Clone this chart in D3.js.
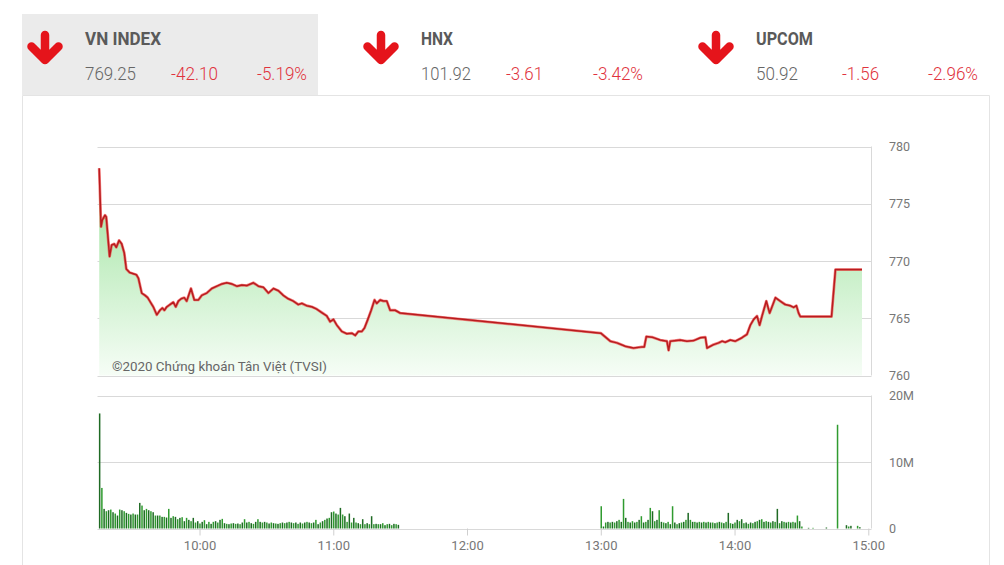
<!DOCTYPE html>
<html><head><meta charset="utf-8">
<script src="https://cdn.jsdelivr.net/npm/d3@7"></script>
<style>
html,body{margin:0;padding:0;background:#fff;}
svg{display:block;font-family:Roboto,"Noto Sans",sans-serif;}
</style></head>
<body><svg id="c" width="1004" height="565"></svg>
<script>
// ---------- header data ----------
const indexNames = ["VN INDEX", "HNX", "UPCOM"];
const indexValues = ["769.25", "101.92", "50.92"];
const indexChanges = ["-42.10", "-3.61", "-1.56"];
const indexPercents = ["-5.19%", "-3.42%", "-2.96%"];

// ---------- price series (VN-Index intraday) ----------
const priceTimes = [
"09:15:00","09:15:50","09:16:25","09:17:36","09:18:10","09:19:40","09:20:35","09:21:45","09:22:40","09:23:55",
"09:25:05","09:26:15","09:27:10","09:28:40","09:31:40","09:32:35","09:34:05","09:35:35","09:36:45","09:39:15",
"09:40:50","09:42:15","09:43:20","09:44:15","09:45:20","09:46:45","09:48:15","09:49:20","09:50:30","09:51:45",
"09:53:10","09:54:15","09:56:10","09:57:40","09:59:30","10:01:00","10:03:15","10:05:30","10:07:45","10:10:00",
"10:12:15","10:14:30","10:16:45","10:19:00","10:21:10","10:24:10","10:26:25","10:28:40","10:30:55","10:33:10",
"10:35:25","10:37:35","10:39:50","10:42:05","10:44:20","10:45:55","10:48:05","10:50:20","10:52:35","10:54:50",
"10:57:05","10:58:35","11:00:05","11:01:35","11:03:50","11:06:05","11:08:20","11:09:50","11:11:15","11:12:50",
"11:14:00","11:15:30","11:17:00","11:18:30","11:19:30","11:21:00","11:22:30","11:24:00","11:25:30","11:27:45",
"11:29:35","11:30:00","13:00:00","13:04:15","13:07:15","13:11:00","13:14:40","13:18:30","13:19:30","13:20:25",
"13:23:00","13:26:40","13:29:40","13:30:25","13:31:10","13:35:40","13:38:40","13:41:40","13:44:40","13:46:55",
"13:47:40","13:50:35","13:52:50","13:54:25","13:55:50","13:58:05","14:00:20","14:03:20","14:05:35","14:07:05",
"14:08:35","14:10:05","14:11:15","14:12:20","14:14:15","14:15:45","14:18:20","14:20:30","14:22:45","14:25:00",
"14:26:30","14:27:45","14:28:45","14:29:30","14:43:30","14:45:15","14:57:10"
];
const priceValues = [
778.1, 773.0, 773.6, 774.0, 773.85, 770.4, 771.4, 771.5, 771.2, 771.8,
771.5, 770.7, 769.3, 769.0, 768.8, 768.5, 767.2, 767.0, 766.8, 766.0,
765.3, 765.7, 765.9, 765.7, 766.0, 766.2, 766.4, 766.0, 766.5, 766.7,
766.8, 766.5, 767.6, 766.6, 766.6, 767.0, 767.2, 767.6, 767.8, 768.0,
768.1, 768.0, 767.8, 767.9, 767.85, 768.1, 767.8, 767.7, 767.2, 767.6,
767.4, 767.0, 766.7, 766.5, 766.2, 766.3, 766.1, 766.0, 765.8, 765.5,
765.2, 764.7, 764.9, 764.4, 763.85, 763.65, 763.7, 763.5, 763.85, 763.85,
764.15, 764.9, 765.7, 766.6, 766.3, 766.6, 766.5, 766.5, 765.7, 765.7,
765.5, 765.45, 763.7, 763.0, 762.85, 762.55, 762.4, 762.5, 762.5, 763.4,
763.35, 763.1, 763.0, 762.2, 763.0, 763.1, 763.0, 763.05, 763.3, 763.35,
762.4, 762.7, 762.85, 763.0, 762.9, 763.1, 763.0, 763.3, 763.6, 764.4,
764.9, 765.2, 764.4, 765.2, 766.5, 765.45, 766.8, 766.5, 766.2, 766.1,
765.95, 766.1, 765.45, 765.15, 765.15, 769.25, 769.25
];

// ---------- volume series (millions of shares, one bar per minute) ----------
const volMorningStart = "09:15";
const volMorning = [
17.3, 6.1, 2.95, 2.6, 2.75, 2.85, 2.45, 2.25, 1.95, 2.85,
2.75, 2.6, 2.35, 2.2, 2.1, 2.25, 2.1, 2.1, 3.85, 3.45,
2.75, 2.95, 2.75, 2.6, 2.45, 1.95, 1.95, 1.95, 1.75, 1.75,
1.65, 2.95, 1.6, 1.85, 1.75, 1.4, 1.6, 1.7, 1.1, 1.6,
1.3, 1.1, 1.6, 0.9, 1.1, 0.75, 1.0, 1.25, 0.65, 1.0,
0.7, 1.0, 1.1, 0.9, 1.3, 1.45, 0.8, 0.7, 0.65, 0.75,
0.8, 0.7, 0.75, 0.65, 0.9, 1.4, 0.9, 1.0, 0.8, 0.7,
1.0, 1.4, 1.0, 0.9, 1.0, 0.9, 0.75, 0.9, 0.8, 0.75,
0.7, 0.8, 0.9, 0.8, 0.9, 1.0, 0.9, 0.8, 0.9, 0.7,
0.9, 0.75, 0.9, 1.0, 0.9, 0.8, 0.9, 1.3, 0.65, 0.9,
1.1, 1.3, 1.5, 1.6, 2.45, 2.55, 2.25, 2.1, 3.1, 2.1,
1.85, 1.0, 2.25, 0.9, 1.6, 0.9, 0.8, 0.65, 1.4, 0.65,
0.8, 0.65, 1.85, 0.65, 0.7, 0.65, 0.65, 0.8, 0.5, 0.65,
0.7, 0.5, 0.7, 0.65, 0.55
];
const volAfternoonStart = "13:00";
const volAfternoon = [
3.35, 0.3, 0.9, 1.0, 0.9, 1.0, 0.9, 1.1, 1.3, 1.0,
4.45, 1.6, 1.0, 0.9, 1.1, 0.9, 1.0, 1.3, 1.85, 0.9,
1.0, 1.3, 3.1, 2.6, 1.1, 1.3, 2.75, 1.0, 0.9, 0.8,
1.0, 0.65, 3.35, 0.9, 0.65, 0.8, 0.9, 1.0, 1.3, 2.35,
1.3, 1.0, 1.0, 0.9, 1.0, 0.9, 1.0, 0.9, 1.0, 0.9,
0.9, 0.8, 0.9, 1.0, 0.9, 0.8, 1.0, 2.35, 0.8, 0.7,
0.9, 1.3, 1.1, 1.4, 0.8, 0.9, 0.7, 0.9, 0.8, 1.0,
1.1, 1.3, 1.4, 1.0, 1.1, 1.0, 0.9, 1.1, 1.0, 2.95,
0.8, 1.1, 1.0, 0.9, 1.0, 0.9, 1.0, 0.9, 1.95, 1.1,
0.3
];
const volCloseTimes = ["14:33", "14:35", "14:41", "14:46", "14:50", "14:51", "14:52", "14:55", "14:56"];
const volClose = [0.1, 0.1, 0.15, 15.6, 0.5, 0.3, 0.4, 0.4, 0.2];

// ---------- axis ticks ----------
const priceTicks = [760, 765, 770, 775, 780];
const volTicks = [0, 10, 20];
const volTickLabels = ["0", "10M", "20M"];
const timeTicks = ["10:00", "11:00", "12:00", "13:00", "14:00", "15:00"];
const watermark = "©2020 Chứng khoán Tân Việt (TVSI)";

// ---------- helpers ----------
function toMin(s) { const p = s.split(":").map(Number); return p[0] * 60 + p[1] + (p[2] || 0) / 60; }

const svg = d3.select("#c");

// ---------- header ----------
svg.append("rect").attr("x", 22).attr("y", 14).attr("width", 296).attr("height", 81).attr("fill", "#ebebeb");
svg.append("path").attr("d", "M22.5,95.5 H989.5 V565 M22.5,95.5 V565").attr("fill", "none").attr("stroke", "#e4e4e4");

const blockX = [0, 336, 671];
indexNames.forEach((name, i) => {
  const ox = blockX[i];
  const g = svg.append("g").attr("transform", `translate(${ox},0)`);
  g.append("path")
    .attr("d", "M45,35 V59 M31.5,46.5 L45,60 L58.5,46.5")
    .attr("fill", "none").attr("stroke", "#e5141b").attr("stroke-width", 8.5)
    .attr("stroke-linecap", "round").attr("stroke-linejoin", "round");
  const nameW = [76, 32, 57][i];
  g.append("text").attr("x", 85).attr("y", 44.5).text(name)
    .attr("font-size", 18).attr("font-weight", 700).attr("fill", "#5a5a5a")
    .attr("textLength", nameW).attr("lengthAdjust", "spacingAndGlyphs");
  const valW = [51, 50, 42][i];
  g.append("text").attr("x", 85).attr("y", 80).text(indexValues[i])
    .attr("font-size", 18.5).attr("font-weight", 300).attr("fill", "#666")
    .attr("textLength", valW).attr("lengthAdjust", "spacingAndGlyphs");
  const chX = [171, 170, 171][i], chW = [47, 37, 37][i];
  g.append("text").attr("x", chX).attr("y", 80).text(indexChanges[i])
    .attr("font-size", 18.5).attr("font-weight", 300).attr("fill", "#e0333d")
    .attr("textLength", chW).attr("lengthAdjust", "spacingAndGlyphs");
  const pcX = [257, 257, 257][i], pcW = [50, 50, 50][i];
  g.append("text").attr("x", pcX).attr("y", 80).text(indexPercents[i])
    .attr("font-size", 18.5).attr("font-weight", 300).attr("fill", "#e0333d")
    .attr("textLength", pcW).attr("lengthAdjust", "spacingAndGlyphs");
});

// ---------- scales ----------
const plotL = 97.5, plotR = 871.5;
const x = d3.scaleLinear().domain([toMin("09:15"), toMin("15:00")]).range([99.2, 868.3]);
const y = d3.scaleLinear().domain([760, 780]).range([375.5, 146.5]);
const yv = d3.scaleLinear().domain([0, 20]).range([528.5, 395.5]);

// ---------- price panel ----------
const defs = svg.append("defs");
const grad = defs.append("linearGradient").attr("id", "ag")
  .attr("gradientUnits", "userSpaceOnUse").attr("x1", 0).attr("x2", 0)
  .attr("y1", y(780)).attr("y2", y(760));
grad.append("stop").attr("offset", 0).attr("stop-color", "#92df92");
grad.append("stop").attr("offset", 1).attr("stop-color", "#f6fdf6");

svg.append("g").selectAll("line").data(priceTicks).join("line")
  .attr("x1", plotL).attr("x2", plotR).attr("y1", d => Math.round(y(d)) + 0.5).attr("y2", d => Math.round(y(d)) + 0.5)
  .attr("stroke", "#d9d9d9");
svg.append("line").attr("x1", plotR).attr("x2", plotR).attr("y1", y(780)).attr("y2", y(760)).attr("stroke", "#d9d9d9");

const pts = priceTimes.map((t, i) => [toMin(t), priceValues[i]]);
const lineGen = d3.line().x(d => x(d[0])).y(d => y(d[1]));
svg.append("path").datum(pts)
  .attr("d", d3.area().x(d => x(d[0])).y0(y(760)).y1(d => y(d[1])))
  .attr("fill", "url(#ag)");
svg.append("path").datum(pts)
  .attr("d", lineGen)
  .attr("fill", "none").attr("stroke", "#f03030").attr("stroke-width", 2.8).attr("stroke-opacity", 0.6)
  .attr("stroke-linejoin", "round");
svg.append("path").datum(pts)
  .attr("d", lineGen)
  .attr("fill", "none").attr("stroke", "#b81c1f").attr("stroke-width", 1.5)
  .attr("stroke-linejoin", "round");

svg.append("text").attr("x", 112).attr("y", 370.5).text(watermark)
  .attr("font-size", 13.5).attr("fill", "#666")
  .attr("textLength", 215).attr("lengthAdjust", "spacingAndGlyphs");

const yAxis = d3.axisRight(y).tickValues(priceTicks).tickSize(0).tickPadding(0);
svg.append("g").attr("transform", "translate(889,0)").call(yAxis)
  .call(g => g.select(".domain").remove())
  .call(g => g.selectAll("text").attr("font-size", 12.5).attr("fill", "#777").attr("font-family", "Roboto"));

// ---------- volume panel ----------
svg.append("g").selectAll("line").data(volTicks).join("line")
  .attr("x1", plotL).attr("x2", plotR).attr("y1", d => Math.round(yv(d)) + 0.5).attr("y2", d => Math.round(yv(d)) + 0.5)
  .attr("stroke", "#d9d9d9");
svg.append("line").attr("x1", plotR).attr("x2", plotR).attr("y1", yv(20)).attr("y2", yv(0)).attr("stroke", "#d9d9d9");

const bars = [];
volMorning.forEach((v, i) => bars.push([toMin(volMorningStart) + i, v]));
volAfternoon.forEach((v, i) => bars.push([toMin(volAfternoonStart) + i, v]));
volCloseTimes.forEach((t, i) => bars.push([toMin(t), volClose[i]]));

svg.append("g").selectAll("rect").data(bars).join("rect")
  .attr("x", d => x(d[0]) - 0.3).attr("width", 1.5)
  .attr("y", d => yv(d[1])).attr("height", d => yv(0) - yv(d[1]))
  .attr("fill", (d, i) => i % 2 ? "#2f9b2f" : "#1f6a24");

const yvAxis = d3.axisRight(yv).tickValues(volTicks).tickFormat((d, i) => volTickLabels[i]).tickSize(0).tickPadding(0);
svg.append("g").attr("transform", "translate(889,0)").call(yvAxis)
  .call(g => g.select(".domain").remove())
  .call(g => g.selectAll("text").attr("font-size", 12.5).attr("fill", "#777").attr("font-family", "Roboto"));

const xAxis = d3.axisBottom(x).tickValues(timeTicks.map(toMin)).tickFormat((d, i) => timeTicks[i]).tickSize(7).tickPadding(5);
svg.append("g").attr("transform", `translate(0,${yv(0)})`).call(xAxis)
  .call(g => g.select(".domain").remove())
  .call(g => g.selectAll("line").attr("stroke", "#cfcfcf"))
  .call(g => g.selectAll("text").attr("font-size", 13).attr("fill", "#777").attr("font-family", "Roboto"));
</script>
</body></html>
